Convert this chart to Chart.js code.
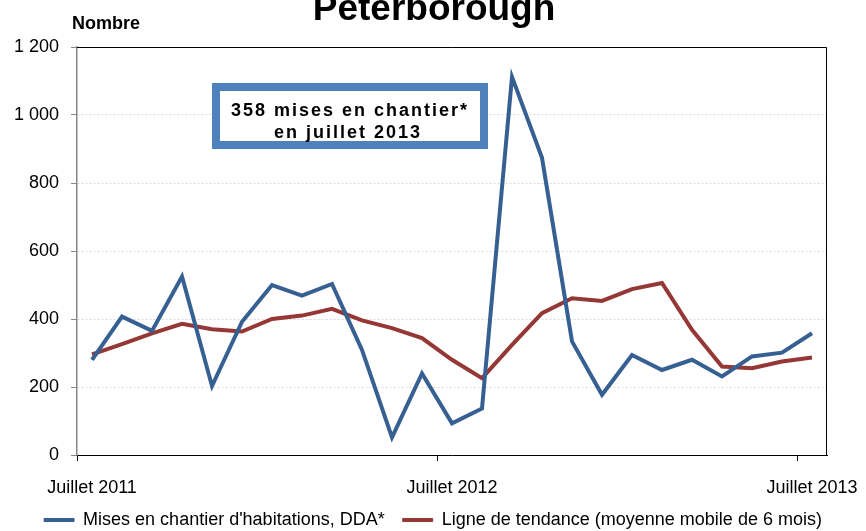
<!DOCTYPE html>
<html>
<head>
<meta charset="utf-8">
<script src="https://cdn.jsdelivr.net/npm/chart.js@4"></script>
<style>
  html, body { margin: 0; padding: 0; background: #fff; }
</style>
</head>
<body>
<canvas id="chart" width="866" height="531"></canvas>
<script>
// Mises en chantier - Peterborough, juillet 2011 a juillet 2013
const months = [
  'Juillet 2011', 'Août 2011', 'Septembre 2011', 'Octobre 2011', 'Novembre 2011', 'Décembre 2011',
  'Janvier 2012', 'Février 2012', 'Mars 2012', 'Avril 2012', 'Mai 2012', 'Juin 2012',
  'Juillet 2012', 'Août 2012', 'Septembre 2012', 'Octobre 2012', 'Novembre 2012', 'Décembre 2012',
  'Janvier 2013', 'Février 2013', 'Mars 2013', 'Avril 2013', 'Mai 2013', 'Juin 2013',
  'Juillet 2013'
];
const starts = [280, 407, 365, 525, 203, 392, 500, 469, 503, 309, 52, 240,
                93, 137, 1112, 874, 334, 177, 294, 250, 280, 231, 290, 301, 358];
const trend = [296, 326, 358, 386, 370, 363, 400, 410, 430, 396, 373, 344,
               280, 226, 324, 417, 461, 453, 488, 506, 368, 260, 255, 275, 287];
const seriesNames = ["Mises en chantier d'habitations, DDA*", 'Ligne de tendance (moyenne mobile de 6 mois)'];
const yMax = 1200;
const yStep = 200;

const FONT = "'Liberation Sans', Arial, sans-serif";
const BLUE = '#376092';
const RED = '#953735';

// titre, "Nombre", cadre du graphique et encadre
const decorations = {
  id: 'decorations',
  afterDraw(chart) {
    const { ctx, chartArea: a } = chart;
    ctx.save();

    // top + right frame lines
    ctx.strokeStyle = '#000';
    ctx.lineWidth = 1;
    ctx.beginPath();
    ctx.moveTo(a.left, a.top + 0.5);
    ctx.lineTo(a.right - 0.5, a.top + 0.5);
    ctx.lineTo(a.right - 0.5, a.bottom);
    ctx.stroke();

    ctx.fillStyle = '#000';
    ctx.textAlign = 'center';
    ctx.textBaseline = 'alphabetic';
    ctx.font = 'bold 37px ' + FONT;
    ctx.fillText('Peterborough', 434, 20);
    ctx.font = 'bold 18px ' + FONT;
    ctx.fillText('Nombre', 106, 29);

    // encadre
    ctx.fillStyle = '#fff';
    ctx.fillRect(216, 87, 268, 58);
    ctx.strokeStyle = '#4F81BD';
    ctx.lineWidth = 8;
    ctx.strokeRect(216, 87, 268, 58);
    ctx.fillStyle = '#000';
    ctx.font = 'bold 18px ' + FONT;
    ctx.letterSpacing = '2px';
    ctx.fillText('358 mises en chantier*', 350, 116);
    ctx.fillText('en juillet 2013', 348, 138);
    ctx.restore();
  }
};

new Chart(document.getElementById('chart'), {
  type: 'line',
  data: {
    labels: months,
    datasets: [
      {
        label: seriesNames[0],
        data: starts,
        borderColor: BLUE,
        backgroundColor: BLUE,
        borderWidth: 4,
        pointRadius: 0,
        tension: 0
      },
      {
        label: seriesNames[1],
        data: trend,
        borderColor: RED,
        backgroundColor: RED,
        borderWidth: 4,
        pointRadius: 0,
        tension: 0
      }
    ]
  },
  options: {
    responsive: false,
    animation: false,
    layout: { padding: { top: 47, right: 0, left: 0, bottom: 0 } },
    plugins: {
      title: { display: false },
      tooltip: { enabled: false },
      legend: {
        position: 'bottom',
        maxHeight: 38,
        labels: {
          color: '#000',
          font: { family: FONT, size: 18 },
          boxWidth: 30,
          boxHeight: 3,
          padding: 18,
          generateLabels: (chart) =>
            Chart.defaults.plugins.legend.labels.generateLabels(chart).map(item => ({ ...item, lineWidth: 1 }))
        }
      }
    },
    scales: {
      x: {
        offset: true,
        grid: {
          offset: true,
          drawOnChartArea: false,
          tickLength: 6,
          color: (ctx) => (ctx.index % 12 === 0 && ctx.index < months.length) ? '#000' : 'rgba(0,0,0,0)'
        },
        border: { color: '#000', width: 1 },
        ticks: {
          autoSkip: false,
          maxRotation: 0,
          padding: 16,
          color: '#000',
          font: { family: FONT, size: 18 },
          callback: (value, index) => (index % 12 === 0 ? months[index] : '')
        },
        afterFit: (scale) => {
          scale.height = 38;
          scale.paddingLeft = 0;
          scale.paddingRight = 39;
        }
      },
      y: {
        min: 0,
        max: yMax,
        grid: {
          color: '#D9D9D9',
          tickColor: '#868686',
          tickLength: 6
        },
        border: { color: '#868686', width: 1.5, dash: [2, 2] },
        ticks: {
          stepSize: yStep,
          padding: 12,
          color: '#000',
          font: { family: FONT, size: 18 },
          callback: (v) => String(v).replace(/\B(?=(\d{3})+(?!\d))/g, ' ')
        },
        afterFit: (scale) => { scale.width = 77; }
      }
    }
  },
  plugins: [decorations]
});
</script>
</body>
</html>
